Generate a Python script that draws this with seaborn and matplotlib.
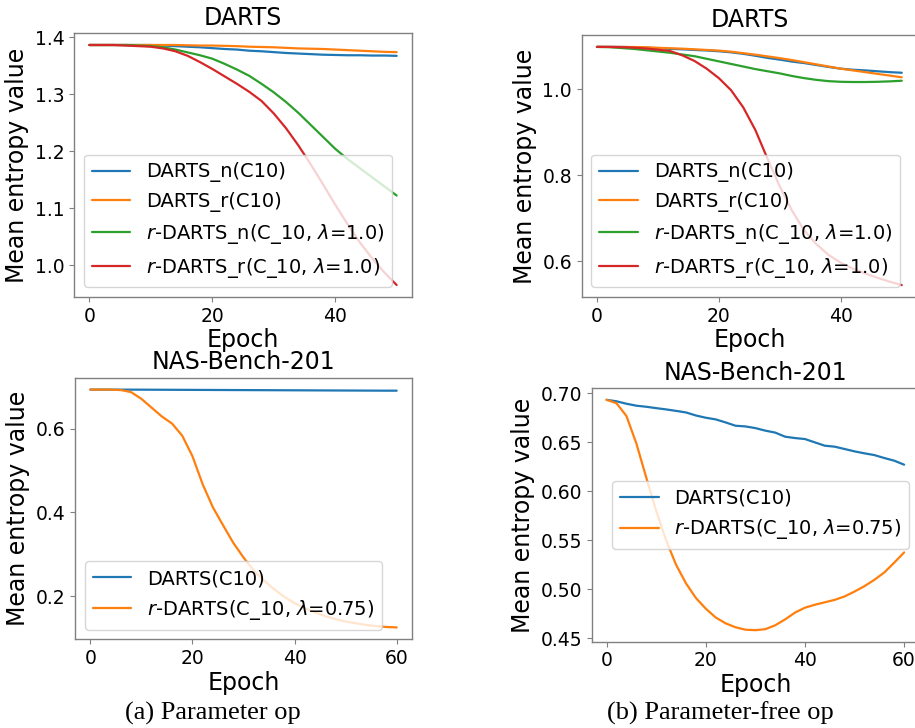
import numpy as np
import pandas as pd
import matplotlib
matplotlib.use("Agg")
import matplotlib.pyplot as plt
import seaborn as sns

# ---------------- data ----------------
epochs_top = list(range(0, 51, 2))
epochs_bot = list(range(0, 61, 2))

# (a) Parameter op, DARTS space
pa_darts_n = [1.386, 1.386, 1.386, 1.386, 1.386, 1.386, 1.385, 1.384, 1.383, 1.382, 1.3805,
              1.379, 1.378, 1.376, 1.375, 1.3735, 1.372, 1.371, 1.370, 1.369, 1.3685,
              1.368, 1.368, 1.3675, 1.3675, 1.367]
pa_darts_r = [1.386, 1.386, 1.386, 1.386, 1.386, 1.386, 1.386, 1.386, 1.3855, 1.385, 1.385,
              1.3845, 1.384, 1.383, 1.3825, 1.382, 1.381, 1.380, 1.3795, 1.379, 1.378,
              1.377, 1.376, 1.375, 1.374, 1.3735]
pa_rdarts_n = [1.386, 1.386, 1.386, 1.386, 1.385, 1.384, 1.382, 1.378, 1.373, 1.368, 1.362,
               1.353, 1.343, 1.332, 1.318, 1.303, 1.286, 1.267, 1.246, 1.225, 1.204,
               1.186, 1.170, 1.154, 1.138, 1.122]
pa_rdarts_r = [1.386, 1.386, 1.386, 1.385, 1.384, 1.383, 1.380, 1.375, 1.367, 1.356, 1.344,
               1.331, 1.318, 1.304, 1.288, 1.266, 1.240, 1.210, 1.177, 1.142, 1.106,
               1.072, 1.040, 1.012, 0.987, 0.965]

# (b) Parameter-free op, DARTS space
pf_darts_n = [1.0986, 1.0986, 1.0985, 1.098, 1.097, 1.0955, 1.094, 1.093, 1.0915, 1.0903, 1.0885,
              1.086, 1.0825, 1.078, 1.073, 1.069, 1.0645, 1.061, 1.0565, 1.052, 1.048,
              1.0455, 1.044, 1.042, 1.040, 1.0385]
pf_darts_r = [1.0986, 1.0986, 1.0985, 1.0983, 1.098, 1.0965, 1.0955, 1.0945, 1.093, 1.0915, 1.090,
              1.0875, 1.084, 1.0805, 1.0765, 1.0725, 1.068, 1.063, 1.058, 1.053, 1.048,
              1.044, 1.040, 1.036, 1.032, 1.028]
pf_rdarts_n = [1.0986, 1.098, 1.096, 1.094, 1.091, 1.088, 1.085, 1.081, 1.077, 1.071, 1.065,
               1.059, 1.053, 1.047, 1.042, 1.037, 1.031, 1.026, 1.022, 1.019, 1.0175,
               1.017, 1.017, 1.0175, 1.0185, 1.020]
pf_rdarts_r = [1.0986, 1.0986, 1.098, 1.097, 1.095, 1.092, 1.089, 1.079, 1.066, 1.048, 1.026,
               0.998, 0.958, 0.905, 0.838, 0.774, 0.718, 0.672, 0.640, 0.615, 0.597,
               0.583, 0.572, 0.562, 0.553, 0.545]

# NAS-Bench-201
pa_nb_darts = [0.6931, 0.6931, 0.6931, 0.6930, 0.6930, 0.6929, 0.6928, 0.6927, 0.6926, 0.6925, 0.6924,
               0.6923, 0.6922, 0.6921, 0.6920, 0.6919, 0.6918, 0.6917, 0.6916, 0.6915, 0.6914,
               0.6913, 0.6912, 0.6911, 0.6910, 0.6909, 0.6908, 0.6907, 0.6906, 0.6905, 0.6905]
pa_nb_rdarts = [0.6931, 0.6931, 0.693, 0.692, 0.687, 0.671, 0.650, 0.629, 0.612, 0.583, 0.534,
                0.467, 0.412, 0.369, 0.327, 0.292, 0.261, 0.237, 0.216, 0.198, 0.183,
                0.171, 0.161, 0.152, 0.145, 0.139, 0.135, 0.131, 0.128, 0.126, 0.125]
pf_nb_darts = [0.6935, 0.692, 0.6895, 0.6875, 0.6864, 0.685, 0.6837, 0.6822, 0.6806, 0.6775, 0.6752,
               0.6735, 0.6704, 0.667, 0.6663, 0.6646, 0.662, 0.660, 0.6558, 0.6544, 0.6534,
               0.650, 0.6466, 0.6456, 0.6432, 0.6408, 0.6388, 0.637, 0.634, 0.6313, 0.6272]
pf_nb_rdarts = [0.6935, 0.690, 0.677, 0.649, 0.614, 0.580, 0.550, 0.525, 0.506, 0.491, 0.480,
                0.471, 0.465, 0.461, 0.4585, 0.458, 0.459, 0.463, 0.469, 0.476, 0.481,
                0.484, 0.4865, 0.489, 0.4925, 0.4975, 0.503, 0.5095, 0.517, 0.527, 0.5375]

lbl_darts4 = ["DARTS_n(C10)", "DARTS_r(C10)",
              r"$r$-DARTS_n(C_10, $\lambda$=1.0)", r"$r$-DARTS_r(C_10, $\lambda$=1.0)"]
lbl_nb = ["DARTS(C10)", r"$r$-DARTS(C_10, $\lambda$=0.75)"]
titles = ["DARTS", "DARTS", "NAS-Bench-201", "NAS-Bench-201"]
captions = ["(a) Parameter op", "(b) Parameter-free op"]

# ---------------- style ----------------
sns.set_style("ticks")
plt.rcParams["font.family"] = ["DejaVu Sans"]
edge = "#808080"
plt.rcParams.update({
    "axes.edgecolor": edge,
    "axes.linewidth": 1.0,
    "text.color": "black",
    "axes.labelcolor": "black",
    "xtick.color": edge,
    "ytick.color": edge,
    "xtick.labelcolor": "black",
    "ytick.labelcolor": "black",
    "xtick.major.size": 3.5,
    "ytick.major.size": 3.5,
    "xtick.labelsize": 13.5,
    "ytick.labelsize": 13.5,
})
colors = sns.color_palette("tab10")

W, H = 915, 728
fig = plt.figure(figsize=(W / 100, H / 100), dpi=100)

def add_ax(l, t, r, b):
    return fig.add_axes([l / W, (H - b) / H, (r - l) / W, (b - t) / H])

ax_tl = add_ax(74, 33, 412, 297)
ax_tr = add_ax(581.7, 35, 917, 297)
ax_bl = add_ax(75, 377.7, 412, 639.3)
ax_br = add_ax(591.7, 388.3, 919, 641.7)

def draw(ax, x, series, labels, title, loc, yticks, xticks):
    for i, (vals, lab) in enumerate(zip(series, labels)):
        df = pd.DataFrame({"Epoch": x, "v": vals})
        sns.lineplot(data=df, x="Epoch", y="v", ax=ax, color=colors[i], label=lab,
                     linewidth=1.6)
    ax.set_title(title, fontsize=17, pad=6, color="black")
    ax.set_xlabel("Epoch", fontsize=17, labelpad=2, color="black")
    ax.set_ylabel("Mean entropy value", fontsize=17, labelpad=4, color="black")
    ax.set_yticks(yticks)
    ax.set_xticks(xticks)
    leg = ax.legend(loc=loc, fontsize=14, handlelength=2.0, borderaxespad=0.5)
    for t in leg.get_texts():
        t.set_color("black")

draw(ax_tl, epochs_top, [pa_darts_n, pa_darts_r, pa_rdarts_n, pa_rdarts_r], lbl_darts4,
     titles[0], "lower left", [1.0, 1.1, 1.2, 1.3, 1.4], [0, 20, 40])
ax_tl.set_yticklabels(["1.0", "1.1", "1.2", "1.3", "1.4"])
draw(ax_tr, epochs_top, [pf_darts_n, pf_darts_r, pf_rdarts_n, pf_rdarts_r], lbl_darts4,
     titles[1], "lower left", [0.6, 0.8, 1.0], [0, 20, 40])
draw(ax_bl, epochs_bot, [pa_nb_darts, pa_nb_rdarts], lbl_nb,
     titles[2], "lower left", [0.2, 0.4, 0.6], [0, 20, 40, 60])
draw(ax_br, epochs_bot, [pf_nb_darts, pf_nb_rdarts], lbl_nb,
     titles[3], "center right", [0.45, 0.50, 0.55, 0.60, 0.65, 0.70], [0, 20, 40, 60])
ax_br.set_yticklabels(["0.45", "0.50", "0.55", "0.60", "0.65", "0.70"])

fig.text(212.5 / W, (H - 713) / H, captions[0], family="Liberation Serif", fontsize=19,
         ha="center", va="center", color="black")
fig.text(720 / W, (H - 713) / H, captions[1], family="Liberation Serif", fontsize=19,
         ha="center", va="center", color="black")

fig.savefig("out.png", dpi=100)
